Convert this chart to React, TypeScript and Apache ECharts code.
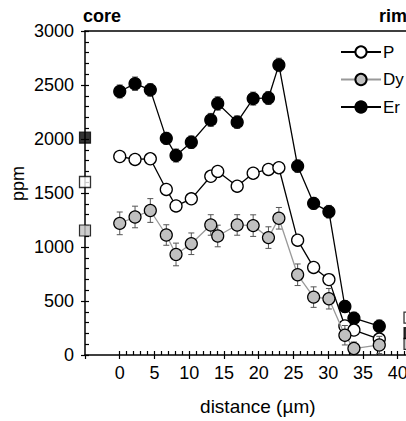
import React, { useEffect, useRef } from "react";
import * as echarts from "echarts";

const distance = [0, 2.2, 4.4, 6.7, 8.1, 10.3, 13.1, 14.1, 16.9, 19.2, 21.4, 22.9, 25.6, 27.9, 30.1, 32.4, 33.7, 37.35];
const P = [1838, 1811, 1817, 1533, 1380, 1446, 1655, 1700, 1563, 1683, 1718, 1734, 1063, 811, 698, 269, 231, 147];
const Dy = [1219, 1278, 1338, 1111, 931, 1030, 1204, 1102, 1204, 1198, 1087, 1266, 743, 536, 521, 183, 60, 93];
const Er = [2440, 2512, 2455, 2006, 1847, 1970, 2177, 2329, 2156, 2374, 2380, 2686, 1749, 1404, 1327, 449, 341, 267];
const DyErr = [105, 100, 110, 95, 105, 100, 95, 100, 95, 100, 100, 100, 100, 95, 95, 90, 60, 80];
const ErErr = [60, 62, 58, 55, 60, 58, 60, 62, 58, 60, 60, 62, 58, 55, 58, 55, 55, 57];

// bulk reference values (core at left, rim at right)
const endX = [-5, 41.7];
const endP = [1602, 346];
const endDy = [1153, 103];
const endEr = [2012, 202];

const xTicksMinor = [0, 1, 2, 3, 4, 5, 6, 7, 8, 9, 10, 11, 12, 13, 14, 15, 16, 17, 18, 19, 20, 21, 22, 23, 24, 25, 26, 27, 28, 29, 30, 31, 32, 33, 34, 35, 36, 37, 38, 39, 40, 41, 42];

const FONT = "Liberation Sans";
const GRAY_FILL = "#c0c0c0";
const ERR_COLOR = "#555";

function errRender(params: any, api: any) {
  const x = api.value(0);
  const y = api.value(1);
  const e = api.value(2);
  const top = api.coord([x, y + e]);
  const bot = api.coord([x, y - e]);
  const hw = 3;
  const style = { stroke: ERR_COLOR, lineWidth: 1 };
  return {
    type: "group",
    children: [
      { type: "line", shape: { x1: top[0], y1: top[1], x2: bot[0], y2: bot[1] }, style },
      { type: "line", shape: { x1: top[0] - hw, y1: top[1], x2: top[0] + hw, y2: top[1] }, style },
      { type: "line", shape: { x1: bot[0] - hw, y1: bot[1], x2: bot[0] + hw, y2: bot[1] }, style },
    ],
  };
}

export default function App() {
  const ref = useRef<HTMLDivElement>(null);
  useEffect(() => {
    if (!ref.current) return;
    document.body.style.overflow = "hidden";
    const chart = echarts.init(ref.current, undefined, { renderer: "svg" });
    const axisLine = { show: true, onZero: false, lineStyle: { color: "#000", width: 1.5 } };
    const labelStyle = { fontFamily: FONT, fontSize: 18, color: "#000" };
    chart.setOption({
      animation: false,
      textStyle: { fontFamily: FONT },
      grid: { left: 85, top: 31, right: 8.4, bottom: 56.5, containLabel: false },
      legend: {
        data: ["P", "Dy", "Er"],
        orient: "vertical",
        left: 335,
        top: 38,
        padding: 5,
        itemWidth: 40,
        itemHeight: 14,
        itemGap: 9.5,
        textStyle: { fontFamily: FONT, fontSize: 17, color: "#000", lineHeight: 18, padding: [0, 0, 0, -3] },
      },
      xAxis: [
        {
          type: "value",
          min: -5,
          max: 42,
          interval: 5,
          position: "bottom",
          axisLine,
          axisTick: { show: true, inside: false, length: 4, lineStyle: { color: "#000", width: 1.2 } },
          axisLabel: {
            ...labelStyle,
            margin: 9,
            formatter: (v: number) => (v < 0 ? "" : String(v)),
          },
          splitLine: { show: false },
          name: "distance (µm)",
          nameLocation: "middle",
          nameGap: 42,
          nameTextStyle: { ...labelStyle, fontSize: 19, padding: [0, 0, 0, 19] },
        },
        {
          type: "value",
          min: -5,
          max: 42,
          interval: 5,
          position: "bottom",
          axisLine: { show: false, onZero: false },
          axisTick: { show: true, inside: true, length: 4, customValues: xTicksMinor, lineStyle: { color: "#000", width: 1.2 } },
          axisLabel: { show: false },
          splitLine: { show: false },
        },
        {
          type: "value",
          min: -5,
          max: 42,
          position: "top",
          axisLine,
          axisTick: { show: false },
          axisLabel: { show: false },
          splitLine: { show: false },
        },
      ],
      yAxis: [
        {
          type: "value",
          min: 0,
          max: 3000,
          interval: 500,
          position: "left",
          axisLine,
          axisTick: { show: true, inside: false, length: 4, lineStyle: { color: "#000", width: 1.2 } },
          axisLabel: { ...labelStyle, margin: 11, formatter: (v: number) => String(v) },
          splitLine: { show: false },
        },
        {
          type: "value",
          min: 0,
          max: 3000,
          interval: 500,
          position: "left",
          axisLine: { show: false, onZero: false },
          axisTick: { show: true, inside: true, length: 4, lineStyle: { color: "#000", width: 1.2 } },
          minorTick: { show: true, splitNumber: 5, length: 4, lineStyle: { color: "#000", width: 1.2 } },
          axisLabel: { show: false },
          splitLine: { show: false },
        },
      ],
      graphic: [
        {
          type: "text",
          left: 83,
          top: 7,
          style: { text: "core", font: `bold 18px "${FONT}"`, fill: "#000" },
        },
        {
          type: "text",
          left: 379,
          top: 7,
          style: { text: "rim", font: `bold 18px "${FONT}"`, fill: "#000" },
        },
        {
          type: "text",
          x: 18,
          y: 183.5,
          rotation: Math.PI / 2,
          style: { text: "ppm", font: `18px "${FONT}"`, fill: "#000", align: "center", verticalAlign: "middle" },
        },
      ],
      series: [
        {
          type: "custom",
          name: "ErErr",
          renderItem: errRender,
          data: distance.map((d, i) => [d, Er[i], ErErr[i]]),
          encode: { x: 0, y: 1 },
          z: 2,
          silent: true,
        },
        {
          type: "line",
          name: "Er",
          data: distance.map((d, i) => [d, Er[i]]),
          symbol: "circle",
          symbolSize: 12,
          clip: false,
          lineStyle: { color: "#000", width: 1.3 },
          itemStyle: { color: "#000", borderColor: "#000", borderWidth: 1.2 },
          z: 3,
        },
        {
          type: "line",
          name: "P",
          data: distance.map((d, i) => [d, P[i]]),
          symbol: "circle",
          symbolSize: 12,
          clip: false,
          lineStyle: { color: "#000", width: 1.3 },
          itemStyle: { color: "#fff", borderColor: "#000", borderWidth: 1.3 },
          z: 4,
        },
        {
          type: "custom",
          name: "DyErr",
          renderItem: errRender,
          data: distance.map((d, i) => [d, Dy[i], DyErr[i]]),
          encode: { x: 0, y: 1 },
          z: 5,
          silent: true,
        },
        {
          type: "line",
          name: "Dy",
          data: distance.map((d, i) => [d, Dy[i]]),
          symbol: "circle",
          symbolSize: 12,
          clip: false,
          lineStyle: { color: "#999", width: 1.3 },
          itemStyle: { color: GRAY_FILL, borderColor: "#000", borderWidth: 1.2 },
          z: 6,
        },
        {
          type: "scatter",
          name: "P bulk",
          data: endX.map((x, i) => [x, endP[i]]),
          symbol: "rect",
          symbolSize: 11,
          clip: false,
          itemStyle: { color: "#fff", borderColor: "#000", borderWidth: 1.3 },
          z: 7,
        },
        {
          type: "scatter",
          name: "Dy bulk",
          data: endX.map((x, i) => [x, endDy[i]]),
          symbol: "rect",
          symbolSize: 11,
          clip: false,
          itemStyle: { color: GRAY_FILL, borderColor: "#000", borderWidth: 1.2 },
          z: 7,
        },
        {
          type: "scatter",
          name: "Er bulk",
          data: endX.map((x, i) => [x, endEr[i]]),
          symbol: "rect",
          symbolSize: 11,
          clip: false,
          itemStyle: { color: "#000", borderColor: "#000", borderWidth: 1.2 },
          z: 7,
        },
      ],
    });
    return () => chart.dispose();
  }, []);
  return (
    <div
      ref={ref}
      style={{ position: "fixed", left: 0, top: 0, width: 420, height: 421, background: "#fff" }}
    />
  );
}
